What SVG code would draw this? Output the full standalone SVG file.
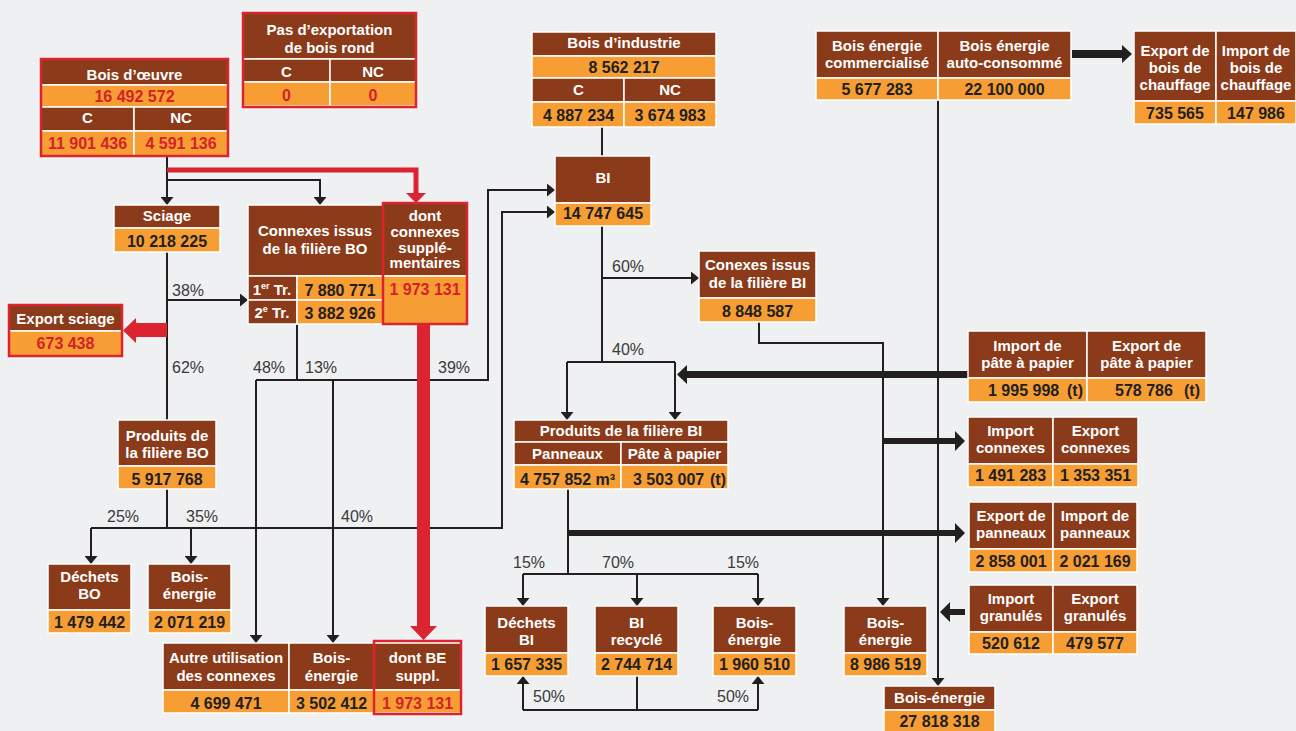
<svg xmlns="http://www.w3.org/2000/svg" width="1296" height="731" viewBox="0 0 1296 731">
<style>
.b{fill:#8b3a1a;stroke:#fff;stroke-width:1.5}
.o{fill:#f69e34;stroke:#fff;stroke-width:1.5}
.rb{fill:none;stroke:#dc2430;stroke-width:2.5}
.t{fill:#fff;font:bold 15px "Liberation Sans",Arial,sans-serif;text-anchor:middle}
.v{fill:#231f20;font:bold 16px "Liberation Sans",Arial,sans-serif;text-anchor:middle}
.vs{fill:#231f20;font:bold 16px "Liberation Sans",Arial,sans-serif;text-anchor:start}
.ve{fill:#231f20;font:bold 16px "Liberation Sans",Arial,sans-serif;text-anchor:end}
.vr{fill:#d2232a;font:bold 16px "Liberation Sans",Arial,sans-serif;text-anchor:middle}
.p{fill:#3a3a3a;font:16px "Liberation Sans",Arial,sans-serif}
.c{fill:none;stroke:#231f20;stroke-width:2}
.k{fill:#231f20}
.r{fill:#dc2430}
.rl{fill:none;stroke:#dc2430;stroke-width:5}
</style>
<defs>
<marker id="ah" viewBox="0 0 8 13" refX="8" refY="6.5" markerWidth="8" markerHeight="13" markerUnits="userSpaceOnUse" orient="auto"><path d="M0,0 L8,6.5 L0,13 z" fill="#231f20"/></marker>
</defs>
<rect width="1296" height="731" fill="#eff0f2"/>

<g id="connectors">
<path class="c" d="M167,157 V205" marker-end="url(#ah)"/>
<path class="c" d="M167,180 H320 V205" marker-end="url(#ah)"/>
<path class="c" d="M167,252 V420"/>
<path class="c" d="M167,300 H248" marker-end="url(#ah)"/>
<path class="c" d="M297,324 V380"/>
<path class="c" d="M256,380 H488 V190 H555" marker-end="url(#ah)"/>
<path class="c" d="M256,380 V643" marker-end="url(#ah)"/>
<path class="c" d="M333,380 V643" marker-end="url(#ah)"/>
<path class="c" d="M167,489 V528"/>
<path class="c" d="M91,528 H502 V212 H555" marker-end="url(#ah)"/>
<path class="c" d="M91,528 V564" marker-end="url(#ah)"/>
<path class="c" d="M191,528 V564" marker-end="url(#ah)"/>
<path class="c" d="M602,127 V156"/>
<path class="c" d="M602,226 V362"/>
<path class="c" d="M602,278 H699" marker-end="url(#ah)"/>
<path class="c" d="M567,362 H675"/>
<path class="c" d="M567,362 V420" marker-end="url(#ah)"/>
<path class="c" d="M675,362 V420" marker-end="url(#ah)"/>
<path class="c" d="M759,322 V343 H883 V606" marker-end="url(#ah)"/>
<path class="c" d="M938,100 V686" marker-end="url(#ah)"/>
<path class="c" d="M568,489 V574"/>
<path class="c" d="M523,574 H758"/>
<path class="c" d="M523,574 V606" marker-end="url(#ah)"/>
<path class="c" d="M637,574 V606" marker-end="url(#ah)"/>
<path class="c" d="M758,574 V606" marker-end="url(#ah)"/>
<path class="c" d="M637,676 V710"/>
<path class="c" d="M523,710 H758"/>
<path class="c" d="M523,710 V676" marker-end="url(#ah)"/>
<path class="c" d="M758,710 V676" marker-end="url(#ah)"/>
<polygon class="k" points="1072,50 1122,50 1122,45 1132,54 1122,63 1122,58 1072,58"/>
<polygon class="k" points="968,371 687,371 687,365 677,374.5 687,384 687,378 968,378"/>
<polygon class="k" points="883,438 955,438 955,431 965,441 955,451 955,444 883,444"/>
<polygon class="k" points="568,530 955,530 955,523 965,533 955,543 955,536 568,536"/>
<polygon class="k" points="965,609 950,609 950,602 940,612 950,622 950,615 965,615"/>
<path class="rl" d="M167,170 H416 V194"/>
<polygon class="r" points="406,193 426,193 416,203"/>
<polygon class="r" points="167,323 136,323 136,318 123,330.5 136,343 136,337 167,337"/>
<polygon class="r" points="417,324 430,324 430,626 437,626 423.5,640 410,626 417,626"/>
<text class="p" x="172" y="296">38%</text>
<text class="p" x="172" y="373">62%</text>
<text class="p" x="253" y="373">48%</text>
<text class="p" x="305" y="373">13%</text>
<text class="p" x="438" y="373">39%</text>
<text class="p" x="107" y="522">25%</text>
<text class="p" x="186" y="522">35%</text>
<text class="p" x="341" y="522">40%</text>
<text class="p" x="612" y="272">60%</text>
<text class="p" x="612" y="355">40%</text>
<text class="p" x="513" y="568">15%</text>
<text class="p" x="602" y="568">70%</text>
<text class="p" x="727" y="568">15%</text>
<text class="p" x="533" y="702">50%</text>
<text class="p" x="717" y="702">50%</text>
</g>

<g id="pas-export">
<rect class="b" x="243" y="13" width="173" height="46"/>
<rect class="b" x="243" y="59" width="87" height="23"/>
<rect class="b" x="330" y="59" width="86" height="23"/>
<rect class="o" x="243" y="82" width="87" height="24"/>
<rect class="o" x="330" y="82" width="86" height="24"/>
<rect class="rb" x="243" y="13" width="173" height="94"/>
<text class="t" x="329.5" y="35.4">Pas d’exportation</text>
<text class="t" x="329.5" y="53.4">de bois rond</text>
<text class="t" x="286.5" y="77.4">C</text>
<text class="t" x="373" y="77.4">NC</text>
<text class="vr" x="286.5" y="100.8">0</text>
<text class="vr" x="373" y="100.8">0</text>
</g>

<g id="bois-oeuvre">
<rect class="b" x="41" y="59" width="187" height="26"/>
<rect class="o" x="41" y="85" width="187" height="22"/>
<rect class="b" x="41" y="107" width="93" height="24"/>
<rect class="b" x="134" y="107" width="94" height="24"/>
<rect class="o" x="41" y="131" width="93" height="25"/>
<rect class="o" x="134" y="131" width="94" height="25"/>
<rect class="rb" x="41" y="59" width="187" height="97"/>
<text class="t" x="134.5" y="80.4">Bois d’œuvre</text>
<text class="vr" x="134.5" y="101.8">16 492 572</text>
<text class="t" x="87.5" y="123.4">C</text>
<text class="t" x="181" y="123.4">NC</text>
<text class="vr" x="87.5" y="148.8">11 901 436</text>
<text class="vr" x="181" y="148.8">4 591 136</text>
</g>

<g id="bois-industrie">
<rect class="b" x="532" y="32" width="184" height="24"/>
<rect class="o" x="532" y="56" width="184" height="22"/>
<rect class="b" x="532" y="78" width="92" height="24"/>
<rect class="b" x="624" y="78" width="92" height="24"/>
<rect class="o" x="532" y="102" width="92" height="25"/>
<rect class="o" x="624" y="102" width="92" height="25"/>
<text class="t" x="624" y="48.4">Bois d’industrie</text>
<text class="v" x="624" y="72.8">8 562 217</text>
<text class="t" x="578.5" y="95.4">C</text>
<text class="t" x="670" y="95.4">NC</text>
<text class="v" x="578.5" y="120.8">4 887 234</text>
<text class="v" x="670" y="120.8">3 674 983</text>
</g>

<g id="bois-energie-top">
<rect class="b" x="816" y="31" width="122" height="47"/>
<rect class="b" x="938" y="31" width="133" height="47"/>
<rect class="o" x="816" y="78" width="122" height="22"/>
<rect class="o" x="938" y="78" width="133" height="22"/>
<text class="t" x="877" y="51.4">Bois énergie</text>
<text class="t" x="877" y="68.4">commercialisé</text>
<text class="t" x="1004.5" y="51.4">Bois énergie</text>
<text class="t" x="1004.5" y="68.4">auto-consommé</text>
<text class="v" x="877" y="94.8">5 677 283</text>
<text class="v" x="1004.5" y="94.8">22 100 000</text>
</g>

<g id="chauffage">
<rect class="b" x="1134" y="31" width="82" height="70"/>
<rect class="b" x="1216" y="31" width="80" height="70"/>
<rect class="o" x="1134" y="101" width="82" height="23"/>
<rect class="o" x="1216" y="101" width="80" height="23"/>
<text class="t" x="1175" y="56.4">Export de</text>
<text class="t" x="1175" y="73.4">bois de</text>
<text class="t" x="1175" y="90.4">chauffage</text>
<text class="t" x="1256" y="56.4">Import de</text>
<text class="t" x="1256" y="73.4">bois de</text>
<text class="t" x="1256" y="90.4">chauffage</text>
<text class="v" x="1175" y="118.8">735 565</text>
<text class="v" x="1256" y="118.8">147 986</text>
</g>

<g id="sciage">
<rect class="b" x="114" y="205" width="106" height="23"/>
<rect class="o" x="114" y="228" width="106" height="24"/>
<text class="t" x="167" y="221.4">Sciage</text>
<text class="v" x="167" y="246.8">10 218 225</text>
</g>

<g id="connexes-bo">
<rect class="b" x="248" y="205" width="135" height="71"/>
<rect class="b" x="248" y="276" width="49" height="24"/>
<rect class="o" x="297" y="276" width="86" height="24"/>
<rect class="b" x="248" y="300" width="49" height="24"/>
<rect class="o" x="297" y="300" width="86" height="24"/>
<text class="t" x="315" y="236.4">Connexes issus</text>
<text class="t" x="315" y="254.4">de la filière BO</text>
<text class="t" x="272" y="295.4">1<tspan font-size="9" dy="-6">er</tspan><tspan dy="6"> Tr.</tspan></text>
<text class="t" x="272" y="318.4">2<tspan font-size="9" dy="-6">e</tspan><tspan dy="6"> Tr.</tspan></text>
<text class="v" x="340" y="295.8">7 880 771</text>
<text class="v" x="340" y="318.8">3 882 926</text>
</g>

<g id="dont-connexes">
<rect class="b" x="383" y="203" width="84" height="73"/>
<rect class="o" x="383" y="276" width="84" height="48"/>
<rect class="rb" x="383" y="203" width="84" height="121"/>
<text class="t" x="425" y="221.4">dont</text>
<text class="t" x="425" y="237.4">connexes</text>
<text class="t" x="425" y="253.4">supplé-</text>
<text class="t" x="425" y="268.4">mentaires</text>
<text class="vr" x="425" y="294.8">1 973 131</text>
</g>

<g id="export-sciage">
<rect class="b" x="9" y="305" width="113" height="26"/>
<rect class="o" x="9" y="331" width="113" height="25"/>
<rect class="rb" x="9" y="305" width="113" height="51"/>
<text class="t" x="65.5" y="324.4">Export sciage</text>
<text class="vr" x="65.5" y="348.8">673 438</text>
</g>

<g id="produits-bo">
<rect class="b" x="118" y="420" width="98" height="46"/>
<rect class="o" x="118" y="466" width="98" height="23"/>
<text class="t" x="167" y="441.4">Produits de</text>
<text class="t" x="167" y="458.4">la filière BO</text>
<text class="v" x="167" y="484.8">5 917 768</text>
</g>

<g id="dechets-bo">
<rect class="b" x="48" y="564" width="83" height="46"/>
<rect class="o" x="48" y="610" width="83" height="23"/>
<text class="t" x="89.5" y="582.4">Déchets</text>
<text class="t" x="89.5" y="599.4">BO</text>
<text class="v" x="89.5" y="627.8">1 479 442</text>
</g>

<g id="bois-energie-bo">
<rect class="b" x="148" y="564" width="83" height="46"/>
<rect class="o" x="148" y="610" width="83" height="23"/>
<text class="t" x="189.5" y="582.4">Bois-</text>
<text class="t" x="189.5" y="599.4">énergie</text>
<text class="v" x="189.5" y="627.8">2 071 219</text>
</g>

<g id="autre-utilisation">
<rect class="b" x="163" y="643" width="126" height="47"/>
<rect class="o" x="163" y="690" width="126" height="23"/>
<text class="t" x="226" y="663.4">Autre utilisation</text>
<text class="t" x="226" y="681.4">des connexes</text>
<text class="v" x="226" y="708.8">4 699 471</text>
</g>

<g id="bois-energie-cx">
<rect class="b" x="289" y="643" width="85" height="47"/>
<rect class="o" x="289" y="690" width="85" height="23"/>
<text class="t" x="331.5" y="663.4">Bois-</text>
<text class="t" x="331.5" y="681.4">énergie</text>
<text class="v" x="331.5" y="708.8">3 502 412</text>
</g>

<g id="dont-be">
<rect class="b" x="374" y="643" width="87" height="47"/>
<rect class="o" x="374" y="690" width="87" height="23"/>
<rect class="rb" x="374" y="641" width="87" height="73"/>
<text class="t" x="417.5" y="663.4">dont BE</text>
<text class="t" x="417.5" y="681.4">suppl.</text>
<text class="vr" x="417.5" y="708.8">1 973 131</text>
</g>

<g id="bi">
<rect class="b" x="555" y="156" width="96" height="47"/>
<rect class="o" x="555" y="203" width="96" height="23"/>
<text class="t" x="603" y="183.4">BI</text>
<text class="v" x="603" y="218.8">14 747 645</text>
</g>

<g id="conexes-bi">
<rect class="b" x="699" y="251" width="117" height="47"/>
<rect class="o" x="699" y="298" width="117" height="24"/>
<text class="t" x="757.5" y="270.4">Conexes issus</text>
<text class="t" x="757.5" y="288.4">de la filière BI</text>
<text class="v" x="757.5" y="316.8">8 848 587</text>
</g>

<g id="produits-bi">
<rect class="b" x="514" y="420" width="214" height="22"/>
<rect class="b" x="514" y="442" width="107" height="23"/>
<rect class="b" x="621" y="442" width="107" height="23"/>
<rect class="o" x="514" y="465" width="107" height="24"/>
<rect class="o" x="621" y="465" width="107" height="24"/>
<text class="t" x="621" y="436.4">Produits de la filière BI</text>
<text class="t" x="567.5" y="459.4">Panneaux</text>
<text class="t" x="674.5" y="459.4">Pâte à papier</text>
<text class="v" x="567.5" y="484.8">4 757 852 m³</text>
<text class="vs" x="633" y="484.8">3 503 007</text>
<text class="ve" x="726" y="484.8">(t)</text>
</g>

<g id="dechets-bi">
<rect class="b" x="485" y="606" width="83" height="47"/>
<rect class="o" x="485" y="653" width="83" height="23"/>
<text class="t" x="526.5" y="628.4">Déchets</text>
<text class="t" x="526.5" y="645.4">BI</text>
<text class="v" x="526.5" y="669.8">1 657 335</text>
</g>

<g id="bi-recycle">
<rect class="b" x="595" y="606" width="83" height="47"/>
<rect class="o" x="595" y="653" width="83" height="23"/>
<text class="t" x="636.5" y="628.4">BI</text>
<text class="t" x="636.5" y="645.4">recyclé</text>
<text class="v" x="636.5" y="669.8">2 744 714</text>
</g>

<g id="bois-energie-bi">
<rect class="b" x="713" y="606" width="83" height="47"/>
<rect class="o" x="713" y="653" width="83" height="23"/>
<text class="t" x="754.5" y="628.4">Bois-</text>
<text class="t" x="754.5" y="645.4">énergie</text>
<text class="v" x="754.5" y="669.8">1 960 510</text>
</g>

<g id="bois-energie-cbi">
<rect class="b" x="844" y="606" width="83" height="47"/>
<rect class="o" x="844" y="653" width="83" height="23"/>
<text class="t" x="885.5" y="628.4">Bois-</text>
<text class="t" x="885.5" y="645.4">énergie</text>
<text class="v" x="885.5" y="669.8">8 986 519</text>
</g>

<g id="bois-energie-total">
<rect class="b" x="884" y="686" width="111" height="24"/>
<rect class="o" x="884" y="710" width="111" height="22"/>
<text class="t" x="939.5" y="703.4">Bois-énergie</text>
<text class="v" x="939.5" y="726.8">27 818 318</text>
</g>

<g id="pate">
<rect class="b" x="968" y="331" width="119" height="47"/>
<rect class="b" x="1087" y="331" width="119" height="47"/>
<rect class="o" x="968" y="378" width="119" height="24"/>
<rect class="o" x="1087" y="378" width="119" height="24"/>
<text class="t" x="1027.5" y="351.4">Import de</text>
<text class="t" x="1027.5" y="368.4">pâte à papier</text>
<text class="t" x="1146.5" y="351.4">Export de</text>
<text class="t" x="1146.5" y="368.4">pâte à papier</text>
<text class="vs" x="988" y="395.8">1 995 998</text>
<text class="ve" x="1083" y="395.8">(t)</text>
<text class="vs" x="1115" y="395.8">578 786</text>
<text class="ve" x="1200" y="395.8">(t)</text>
</g>

<g id="connexes-ie">
<rect class="b" x="968" y="417" width="85" height="47"/>
<rect class="b" x="1053" y="417" width="85" height="47"/>
<rect class="o" x="968" y="464" width="85" height="23"/>
<rect class="o" x="1053" y="464" width="85" height="23"/>
<text class="t" x="1010.5" y="436.4">Import</text>
<text class="t" x="1010.5" y="453.4">connexes</text>
<text class="t" x="1095.5" y="436.4">Export</text>
<text class="t" x="1095.5" y="453.4">connexes</text>
<text class="v" x="1010.5" y="480.8">1 491 283</text>
<text class="v" x="1095.5" y="480.8">1 353 351</text>
</g>

<g id="panneaux-ie">
<rect class="b" x="969" y="502" width="84" height="47"/>
<rect class="b" x="1053" y="502" width="84" height="47"/>
<rect class="o" x="969" y="549" width="84" height="23"/>
<rect class="o" x="1053" y="549" width="84" height="23"/>
<text class="t" x="1011" y="521.4">Export de</text>
<text class="t" x="1011" y="538.4">panneaux</text>
<text class="t" x="1095" y="521.4">Import de</text>
<text class="t" x="1095" y="538.4">panneaux</text>
<text class="v" x="1011" y="566.8">2 858 001</text>
<text class="v" x="1095" y="566.8">2 021 169</text>
</g>

<g id="granules">
<rect class="b" x="969" y="585" width="84" height="47"/>
<rect class="b" x="1053" y="585" width="84" height="47"/>
<rect class="o" x="969" y="632" width="84" height="22"/>
<rect class="o" x="1053" y="632" width="84" height="22"/>
<text class="t" x="1011" y="604.4">Import</text>
<text class="t" x="1011" y="621.4">granulés</text>
<text class="t" x="1095" y="604.4">Export</text>
<text class="t" x="1095" y="621.4">granulés</text>
<text class="v" x="1011" y="648.8">520 612</text>
<text class="v" x="1095" y="648.8">479 577</text>
</g>
</svg>
